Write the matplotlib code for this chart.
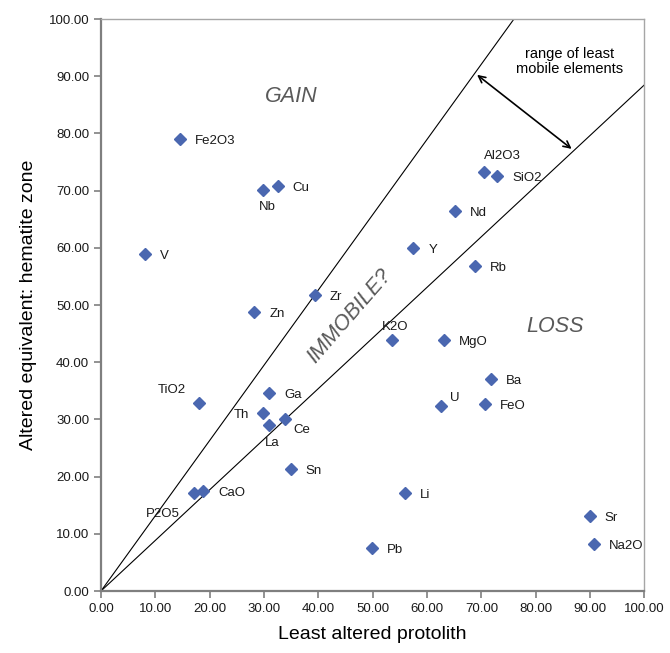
import matplotlib
matplotlib.use("Agg")
import matplotlib.pyplot as plt
import numpy as np

plt.rcParams['font.family'] = ['Liberation Sans', 'DejaVu Sans']

# element, least altered protolith, altered equivalent (hematite zone)
elements = ['Fe2O3', 'Cu', 'Nb', 'V', 'Zr', 'Zn', 'Ga', 'Th', 'La', 'Ce',
            'TiO2', 'Sn', 'CaO', 'P2O5', 'Li', 'Pb', 'K2O', 'MgO', 'Ba', 'U',
            'FeO', 'Sr', 'Na2O', 'Y', 'Rb', 'Nd', 'Al2O3', 'SiO2']
protolith = [14.5, 32.5, 29.8, 8.1, 39.3, 28.2, 30.9, 29.8, 30.9, 33.8,
             18.0, 34.9, 18.8, 17.1, 56.0, 49.9, 53.6, 63.1, 71.7, 62.6,
             70.6, 89.9, 90.7, 57.5, 68.8, 65.1, 70.4, 72.9]
altered = [79.0, 70.8, 70.1, 58.9, 51.7, 48.8, 34.6, 31.1, 29.0, 30.1,
           32.9, 21.4, 17.4, 17.1, 17.2, 7.6, 43.9, 43.9, 37.0, 32.4,
           32.7, 13.2, 8.2, 60.0, 56.9, 66.4, 73.3, 72.6]

# label offsets in pixels (dx, dy, horizontal alignment)
offsets = {
    'Nb': (4, -17, 'center'), 'Th': (-14, -2, 'right'), 'La': (3, -18, 'center'),
    'Ce': (9, -11, 'left'), 'TiO2': (-13, 13, 'right'), 'P2O5': (-14, -21, 'right'),
    'K2O': (3, 13, 'center'), 'U': (9, 8, 'left'), 'Al2O3': (19, 16, 'center'),
}

# bounding slopes of the least mobile elements
upper_slope = 1.316
lower_slope = 0.885

fig = plt.figure(figsize=(6.70, 6.53), dpi=100)
ax = fig.add_axes([0.1507, 0.0949, 0.8112, 0.876])

xx = np.array([0, 100])
ax.plot(xx, upper_slope * xx, color='black', lw=0.8)
ax.plot(xx, lower_slope * xx, color='black', lw=0.8)

ax.plot(protolith, altered, linestyle='none', marker='D', ms=6.5,
        color='#4a67b0', mec='#4a67b0')

for name, x, y in zip(elements, protolith, altered):
    dx, dy, ha = offsets.get(name, (15, -2, 'left'))
    ax.annotate(name, (x, y), xytext=(dx, dy), textcoords='offset pixels',
                ha=ha, va='center', fontsize=9.5, color='#1a1a1a')

ax.annotate('', xy=(68.8, upper_slope * 68.8), xytext=(87.0, lower_slope * 87.0),
            arrowprops=dict(arrowstyle='<->', color='black', lw=1.2,
                            mutation_scale=12))
ax.text(86.2, 92.6, 'range of least\nmobile elements', ha='center', va='center',
        fontsize=10.5, linespacing=1.1)

ax.text(35.0, 86.5, 'GAIN', fontsize=15.5, style='italic', color='#595959',
        ha='center', va='center')
ax.text(83.6, 46.3, 'LOSS', fontsize=15.5, style='italic', color='#595959',
        ha='center', va='center')
ax.text(45.8, 48.0, 'IMMOBILE?', fontsize=15.5, style='italic', color='#595959',
        ha='center', va='center', rotation=49)

ax.set_xlim(0, 100)
ax.set_ylim(0, 100)
ticks = np.arange(0, 101, 10)
ax.set_xticks(ticks)
ax.set_yticks(ticks)
ax.set_xticklabels(['%.2f' % t for t in ticks])
ax.set_yticklabels(['%.2f' % t for t in ticks])
ax.tick_params(direction='out', length=5, width=1.2, color='#7f7f7f',
               labelsize=9.5, labelcolor='#1a1a1a')

for side in ['left', 'bottom']:
    ax.spines[side].set_color('#7f7f7f')
    ax.spines[side].set_linewidth(1.6)
for side in ['top', 'right']:
    ax.spines[side].set_color('#a6a6a6')
    ax.spines[side].set_linewidth(1.0)

ax.set_xlabel('Least altered protolith', fontsize=14, labelpad=8)
ax.set_ylabel('Altered equivalent: hematite zone', fontsize=14, labelpad=8)

fig.savefig('out.png', dpi=100)
